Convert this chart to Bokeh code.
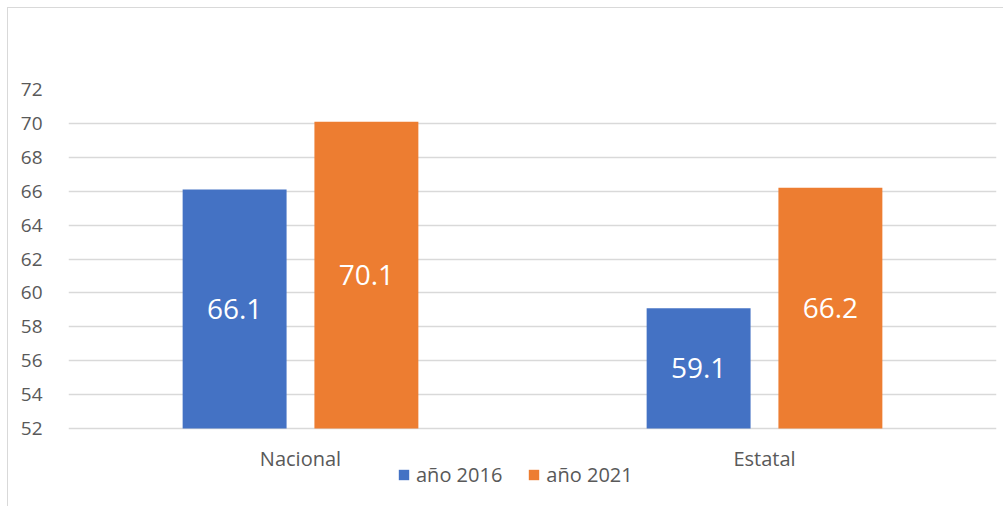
from bokeh.plotting import figure
from bokeh.models import (ColumnDataSource, FactorRange, Range1d, FixedTicker,
                          Legend, LegendItem, Spacer)
from bokeh.layouts import row, column
from bokeh.transform import dodge
from bokeh.core.properties import value
from bokeh.embed import file_html
from bokeh.resources import INLINE

categories = ["Nacional", "Estatal"]
series_names = ["año 2016", "año 2021"]
values_2016 = [66.1, 59.1]
values_2021 = [70.1, 66.2]
y_ticks = [52, 54, 56, 58, 60, 62, 64, 66, 68, 70, 72]
colors = ["#4472C4", "#ED7D31"]

FONT = "Open Sans"
TXT = "#595959"
Y0 = 52
Y_TOP = 72
# frame extends below the baseline so that axis labels and legend fit inside it
Y_LOW = Y_TOP - 418 / 16.95

src = ColumnDataSource(dict(
    cat=categories,
    v16=values_2016,
    v21=values_2021,
    m16=[(Y0 + v) / 2 for v in values_2016],
    m21=[(Y0 + v) / 2 for v in values_2021],
    l16=[f"{v:.1f}" for v in values_2016],
    l21=[f"{v:.1f}" for v in values_2021],
))

p = figure(width=996, height=499, x_range=FactorRange(*categories, range_padding=0),
           y_range=Range1d(Y_LOW, Y_TOP), output_backend="svg", toolbar_location=None,
           min_border_left=60, min_border_right=8, min_border_top=81, min_border_bottom=0)
p.x_range.range_padding = 0
p.styles = {"border-left": "1px solid #d9d9d9", "border-top": "1px solid #d9d9d9"}
p.outline_line_color = None

r1 = p.vbar(x=dodge("cat", -0.142, range=p.x_range), top="v16", bottom=Y0, width=0.224,
            source=src, fill_color=colors[0], line_color=None)
r2 = p.vbar(x=dodge("cat", 0.142, range=p.x_range), top="v21", bottom=Y0, width=0.224,
            source=src, fill_color=colors[1], line_color=None)

for off, ycol, lcol in [(-0.142, "m16", "l16"), (0.142, "m21", "l21")]:
    p.text(x=dodge("cat", off, range=p.x_range), y=ycol, text=lcol, source=src,
           text_color="white", text_font=value(FONT),
           text_font_size="28px", text_align="center", text_baseline="middle")

p.yaxis.ticker = FixedTicker(ticks=y_ticks)
p.yaxis.axis_line_color = None
p.yaxis.major_tick_line_color = None
p.yaxis.minor_tick_line_color = None
p.yaxis.major_label_standoff = 20
p.yaxis.major_label_text_font = FONT
p.yaxis.major_label_text_font_size = "19px"
p.yaxis.major_label_text_color = TXT

p.xaxis.fixed_location = Y0
p.xaxis.axis_line_color = None
p.xaxis.major_tick_line_color = None
p.xaxis.minor_tick_line_color = None
p.xaxis.major_label_standoff = 10
p.xaxis.major_label_text_font = FONT
p.xaxis.major_label_text_font_size = "20px"
p.xaxis.major_label_text_color = TXT

p.xgrid.grid_line_color = None
p.ygrid.grid_line_color = "#d9d9d9"
p.ygrid.grid_line_width = 1.5

legend = Legend(items=[LegendItem(label=series_names[0], renderers=[r1]),
                       LegendItem(label=series_names[1], renderers=[r2])],
                orientation="horizontal", location=(329, 19),
                glyph_width=13, glyph_height=13, label_standoff=6, spacing=25,
                padding=0, margin=0, border_line_color=None, background_fill_alpha=0,
                label_text_font=FONT, label_text_font_size="20px", label_text_color=TXT,
                label_height=20)
p.add_layout(legend, "center")

layout = row(Spacer(width=7), column(Spacer(height=7), p))
open("out.html", "w").write(file_html(layout, INLINE))
